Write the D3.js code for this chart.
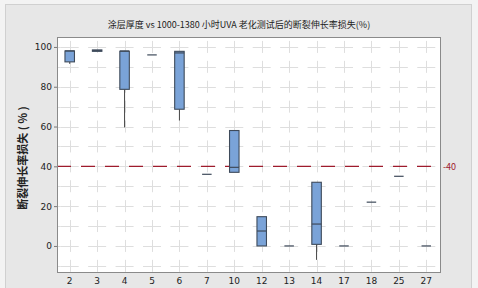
<html>
<script src='https://d3js.org/d3.v7.min.js'></script>
<style>
body {margin:0; background:#f3f3f3;}
text {font-family: "Noto Sans CJK SC", "DejaVu Sans", sans-serif;}
</style>
<body onload='init()'>
<svg width=478 height=288></svg>
<script>
var categories = ["2","3","4","5","6","7","10","12","13","14","17","18","25","27"];
var whiskerLow = [91.5, 97.8, 59.6, 96, 63, 36, 37, 0, 0, -7, 0, 22, 35, 0];
var q1Values   = [92.5, 97.8, 78.7, 96, 68.7, 36, 37, 0, 0, 0.8, 0, 22, 35, 0];
var medians    = [98, 98.2, 98, 96, 97, 36, 39.5, 7.5, 0, 11, 0, 22, 35, 0];
var q3Values   = [98, 98.5, 97.8, 96, 97.8, 36, 58, 14.7, 0, 32, 0, 22, 35, 0];
var whiskerHigh= [98, 98.5, 98, 96, 97.8, 36, 58, 14.7, 0, 32, 0, 22, 35, 0];
var yTicks = [0, 20, 40, 60, 80, 100];
var refValue = 40;

function init() {
  var svg = d3.select('svg');
  var left = 57, right = 441, top = 37, bottom = 273;

  // grey panel
  svg.append('rect').attr('x', 5.5).attr('y', 4.5).attr('width', 466).attr('height', 290)
    .attr('fill', '#e7e7e7').attr('stroke', '#d0d0d0');
  svg.append('rect').attr('x', left).attr('y', top).attr('width', right - left).attr('height', bottom - top)
    .attr('fill', '#fff');

  var x = d3.scaleBand().domain(categories).range([left, right]);
  var y = d3.scaleLinear().domain([-13.6, 105]).range([bottom, top]);
  var cx = function(c) { return x(c) + x.bandwidth() / 2 - 1; };

  // grid
  var gridVals = d3.range(-10, 101, 10);
  var g = svg.append('g').attr('stroke', '#dedede').attr('stroke-width', 1).attr('fill', 'none');
  var step = y(0) - y(10);
  g.selectAll('.vg').data(categories).enter().append('line')
    .attr('x1', function(d) { return Math.round(cx(d)) + 0.5; })
    .attr('x2', function(d) { return Math.round(cx(d)) + 0.5; })
    .attr('y1', y(100) - 6).attr('y2', y(-10) + 6)
    .attr('stroke-dasharray', '12,' + (step - 12));
  var bw = x.bandwidth();
  g.selectAll('.hg').data(gridVals).enter().append('line')
    .attr('y1', function(d) { return Math.round(y(d)) + 0.5; })
    .attr('y2', function(d) { return Math.round(y(d)) + 0.5; })
    .attr('x1', cx(categories[0]) - 9).attr('x2', right)
    .attr('stroke-dasharray', '18,' + (bw - 18));
  g.selectAll('.hg0').data(gridVals).enter().append('line')
    .attr('y1', function(d) { return Math.round(y(d)) + 0.5; })
    .attr('y2', function(d) { return Math.round(y(d)) + 0.5; })
    .attr('x1', left).attr('x2', cx(categories[0]) - 9);

  // reference line
  svg.append('line').attr('x1', left).attr('x2', right)
    .attr('y1', y(refValue)).attr('y2', y(refValue))
    .attr('stroke', '#9e1b2c').attr('stroke-width', 1.2).attr('stroke-dasharray', '14,10');
  svg.append('text').attr('x', right + 2).attr('y', y(refValue) + 3.5)
    .attr('font-size', 9).attr('fill', '#9e1b2c').text('-40');

  // boxes
  var boxW = 9.5;
  var boxes = svg.append('g').selectAll('g').data(categories).enter().append('g');
  boxes.append('line')
    .attr('x1', cx).attr('x2', cx)
    .attr('y1', function(d, i) { return y(whiskerLow[i]); })
    .attr('y2', function(d, i) { return y(q1Values[i]); })
    .attr('stroke', '#444').attr('stroke-width', 1);
  boxes.append('line')
    .attr('x1', cx).attr('x2', cx)
    .attr('y1', function(d, i) { return y(whiskerHigh[i]); })
    .attr('y2', function(d, i) { return y(q3Values[i]); })
    .attr('stroke', '#444').attr('stroke-width', 1);
  boxes.append('rect')
    .attr('x', function(d) { return cx(d) - boxW / 2; })
    .attr('width', boxW)
    .attr('y', function(d, i) { return y(q3Values[i]); })
    .attr('height', function(d, i) { return Math.max(0, y(q1Values[i]) - y(q3Values[i])); })
    .attr('fill', '#7aa3d8').attr('stroke', '#3e4a5a').attr('stroke-width', 1.1);
  boxes.append('line')
    .attr('x1', function(d) { return cx(d) - boxW / 2; })
    .attr('x2', function(d) { return cx(d) + boxW / 2; })
    .attr('y1', function(d, i) { return y(medians[i]); })
    .attr('y2', function(d, i) { return y(medians[i]); })
    .attr('stroke', '#3e4a5a').attr('stroke-width', 1.2);

  // frame
  svg.append('rect').attr('x', left + 0.5).attr('y', top + 0.5)
    .attr('width', right - left - 1).attr('height', bottom - top - 1)
    .attr('fill', 'none').attr('stroke', '#8a8a8a').attr('stroke-width', 1);

  // y axis
  var ya = svg.append('g').attr('transform', 'translate(' + left + ',0)')
    .call(d3.axisLeft(y).tickValues(yTicks).tickSize(3).tickPadding(2));
  ya.select('.domain').remove();
  ya.selectAll('line').attr('stroke', '#777');
  ya.selectAll('text').attr('font-size', 9).attr('fill', '#222')
    .style('font-family', '"DejaVu Sans", sans-serif');

  // x axis
  var xa = svg.append('g').attr('transform', 'translate(0,' + bottom + ')')
    .call(d3.axisBottom(x).tickSize(0).tickPadding(5));
  xa.select('.domain').remove();
  xa.selectAll('.tick').attr('transform', function(d) { return 'translate(' + cx(d) + ',0)'; });
  xa.selectAll('text').attr('font-size', 9).attr('fill', '#222')
    .style('font-family', '"DejaVu Sans", sans-serif');

  // titles
  svg.append('text').attr('x', 239).attr('y', 28).attr('text-anchor', 'middle')
    .attr('font-size', 9).attr('fill', '#222')
    .text('涂层厚度 vs 1000-1380 小时UVA 老化测试后的断裂伸长率损失(%)');
  svg.append('text').attr('transform', 'translate(27,158) rotate(-90)')
    .attr('text-anchor', 'middle').attr('font-size', 11).attr('font-weight', 'bold').attr('fill', '#222')
    .text('断裂伸长率损失 ( % )');
}
</script>
</body>
</html>
